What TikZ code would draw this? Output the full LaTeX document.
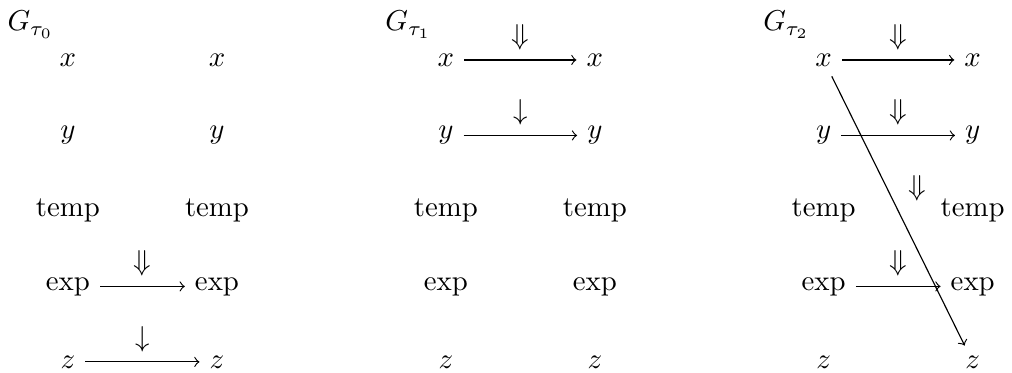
\documentclass[tikz,border=0pt]{standalone}
\usepackage{amsmath}
\usepackage{amssymb}

\begin{document}
\begin{tikzpicture}[scale=1]

% Parameters
\def\gsep{4.615}      % horizontal distance between the graphs
\def\xsep{1.82}       % distance between the two columns of a graph
\def\ysep{0.922}      % vertical spacing between variables
\def\ytop{3.823}      % height of the first row

\useasboundingbox (0,0) rectangle (12.36,4.555);

% Variables of each graph (left and right copy)
\foreach \g in {0,1,2} {
    \node[anchor=base west, inner sep=0] (G\g) at (\g*\gsep+0.085, 4.177) {$G_{\tau_{\g}}$};
    \foreach \v/\txt [count=\r from 0] in {x/$x$, y/$y$, t/temp, e/exp, z/$z$} {
        \node (L\g\v) at (\g*\gsep+0.83, \ytop-\r*\ysep) {\txt};
        \node (R\g\v) at (\g*\gsep+0.83+\xsep, \ytop-\r*\ysep) {\txt};
    }
}

% Edges of G_tau0
\draw[->] (L0e) -- node[auto] {$\Downarrow$} (R0e);
\draw[->] (L0z) -- node[auto] {$\downarrow$} (R0z);

% Edges of G_tau1
\draw[->] (L1x) -- node[auto] {$\Downarrow$} (R1x);
\draw[->] (L1y) -- node[auto] {$\downarrow$} (R1y);

% Edges of G_tau2
\draw[->] (L2x) -- node[auto] {$\Downarrow$} (R2x);
\draw[->] (L2y) -- node[auto] {$\Downarrow$} (R2y);
\draw[->] (L2e) -- node[auto] {$\Downarrow$} (R2e);
\draw[->] (L2x) -- node[auto] {$\Downarrow$} (R2z);

\end{tikzpicture}
\end{document}
